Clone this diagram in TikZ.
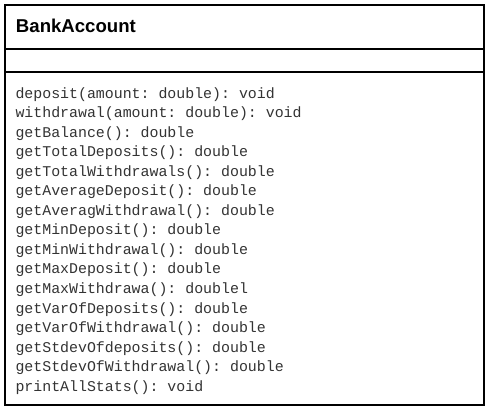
\documentclass[tikz,border=0pt]{standalone}
\usepackage{fontspec}
\setmainfont{Liberation Sans}
\setmonofont{Liberation Mono}
\usetikzlibrary{positioning}

\begin{document}
\begin{tikzpicture}[x=1pt,y=1pt]
\tikzset{every node/.style={inner sep=0mm, outer sep=0mm}}

\tikzstyle{compartment}=[rectangle,draw=black,line width=1.2pt,minimum width=479pt,anchor=north west]
\tikzstyle{class name}=[font=\fontsize{18.6}{22}\selectfont\bfseries]
\tikzstyle{operation}=[font=\fontsize{14.9}{18}\selectfont\ttfamily,text=black!80,anchor=base west]

\useasboundingbox (0,0) rectangle (486,-410);

\node[compartment, minimum height=44pt] (name box) at (5,-5) {};
\node[compartment, minimum height=23pt, below=0pt of name box] (attribute box) {};
\node[compartment, minimum height=333pt, below=0pt of attribute box] (operation box) {};

\node[class name, right=11pt of name box.west, yshift=1.5pt] (class name) {BankAccount};

% operations, one per line
\foreach \m [count=\i] in {{deposit(amount: double): void},
    {withdrawal(amount: double): void},
    {getBalance(): double},
    {getTotalDeposits(): double},
    {getTotalWithdrawals(): double},
    {getAverageDeposit(): double},
    {getAveragWithdrawal(): double},
    {getMinDeposit(): double},
    {getMinWithdrawal(): double},
    {getMaxDeposit(): double},
    {getMaxWithdrawa(): doublel},
    {getVarOfDeposits(): double},
    {getVarOfWithdrawal(): double},
    {getStdevOfdeposits(): double},
    {getStdevOfWithdrawal(): double},
    {printAllStats(): void}} {
    \node[operation] (op \i) at (15.5,{-98-(\i-1)*19.55}) {\m};
};

\end{tikzpicture}
\end{document}
